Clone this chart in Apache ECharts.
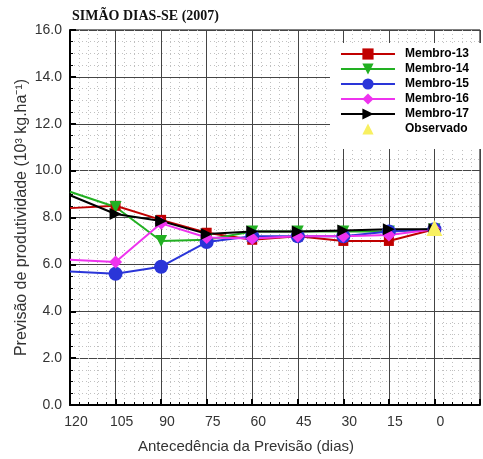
<!DOCTYPE html>
<html><head><meta charset="utf-8">
<script src="https://cdn.jsdelivr.net/npm/echarts@6/dist/echarts.min.js"></script>
<style>html,body{margin:0;padding:0;background:#fff}#c{width:483px;height:459px}</style>
</head><body><div id="c"></div>
<script>
const title = 'SIMÃO DIAS-SE (2007)';
const days = [120, 105, 90, 75, 60, 45, 30, 15, 0];
const membro13 = [8.4, 8.5, 7.9, 7.35, 7.05, 7.2, 7.0, 7.0, 7.5];
const membro14 = [9.1, 8.45, 7.0, 7.05, 7.4, 7.4, 7.4, 7.4, 7.5];
const membro15 = [5.7, 5.6, 5.9, 6.95, 7.2, 7.2, 7.2, 7.4, 7.5];
const membro16 = [6.2, 6.1, 7.75, 7.15, 7.1, 7.2, 7.2, 7.25, 7.5];
const membro17 = [8.95, 8.15, 7.85, 7.3, 7.4, 7.4, 7.45, 7.5, 7.5];
const observadoDay = [0];
const observado = [7.55];

function pts(vals) {
  return days.map((d, i) => i === 0 ? { value: [d, vals[i]], symbol: 'none' } : [d, vals[i]]);
}
function line(name, vals, color, symbol, size, rot) {
  return {
    name, type: 'line', data: pts(vals), symbol, symbolSize: size, symbolRotate: rot || 0,
    lineStyle: { color, width: 2 }, itemStyle: { color }, clip: false
  };
}
const chart = echarts.init(document.getElementById('c'));
chart.setOption({
  animation: false,
  title: { text: title, left: 67, top: 4, textStyle: { fontFamily: 'Liberation Serif', fontWeight: 'bold', fontSize: 14, color: '#111' } },
  grid: { left: 70, top: 30, width: 416, height: 378, show: true, borderColor: '#000', borderWidth: 1 },
  legend: {
    orient: 'vertical', right: 0, top: 43, backgroundColor: '#fff', padding: [5, 14, 14, 10],
    itemWidth: 54, itemHeight: 14, itemGap: 3,
    textStyle: { fontFamily: 'Liberation Sans', fontWeight: 'bold', fontSize: 12, color: '#000', padding: [0, 0, 0, 5] },
    data: ['Membro-13', 'Membro-14', 'Membro-15', 'Membro-16', 'Membro-17', 'Observado']
  },
  xAxis: {
    type: 'value', inverse: true, min: -15, max: 120, interval: 15,
    name: 'Antecedência da Previsão (dias)', nameLocation: 'middle', nameGap: 34,
    nameTextStyle: { fontFamily: 'Liberation Sans', fontSize: 15, color: '#333', padding: [0, 58, 0, 0] },
    axisLine: { onZero: false, lineStyle: { color: '#000', width: 2 } },
    axisTick: { inside: true, length: 6, lineStyle: { color: '#000', width: 2 } },
    minorTick: { show: true, splitNumber: 5, length: 3, lineStyle: { color: '#000', width: 1 } },
    axisLabel: { fontFamily: 'Liberation Sans', fontSize: 14, color: '#333', margin: 10, padding: [0, 0, 0, 12],
      formatter: v => v < 0 ? '' : String(v) },
    splitLine: { show: true, lineStyle: { color: '#444', width: 1 } },
    minorSplitLine: { show: true, lineStyle: { color: '#c0c0c0', width: 1, type: [1, 3] } }
  },
  yAxis: {
    type: 'value', min: 0, max: 16, interval: 2,
    name: 'Previsão de produtividade (10³ kg.ha⁻¹)', nameLocation: 'middle', nameGap: 40, nameMoveOverlap: false,
    nameTextStyle: { fontFamily: 'Liberation Sans', fontSize: 16, color: '#333' },
    axisLine: { show: true, onZero: false, lineStyle: { color: '#000', width: 2 } },
    axisTick: { show: true, inside: true, length: 6, lineStyle: { color: '#000', width: 2 } },
    minorTick: { show: true, splitNumber: 4, length: 3, lineStyle: { color: '#000', width: 1 } },
    axisLabel: { fontFamily: 'Liberation Sans', fontSize: 14, color: '#333', margin: 8, formatter: v => v.toFixed(1) },
    splitLine: { show: true, lineStyle: { color: '#444', width: 1 } },
    minorSplitLine: { show: true, lineStyle: { color: '#c0c0c0', width: 1, type: [1, 3] } }
  },
  series: [
    line('Membro-13', membro13, '#c00000', 'rect', 10),
    line('Membro-14', membro14, '#22b022', 'triangle', 12, 180),
    line('Membro-15', membro15, '#2a35d8', 'circle', 14),
    line('Membro-16', membro16, '#ee33ee', 'diamond', 13),
    line('Membro-17', membro17, '#000000', 'triangle', 12, -90),
    { name: 'Observado', type: 'line', data: observadoDay.map((d, i) => [d, observado[i]]),
      symbol: 'triangle', symbolSize: 16, itemStyle: { color: '#f8f060' },
      lineStyle: { width: 0, opacity: 0 }, z: 5, clip: false }
  ]
});
</script></body></html>
